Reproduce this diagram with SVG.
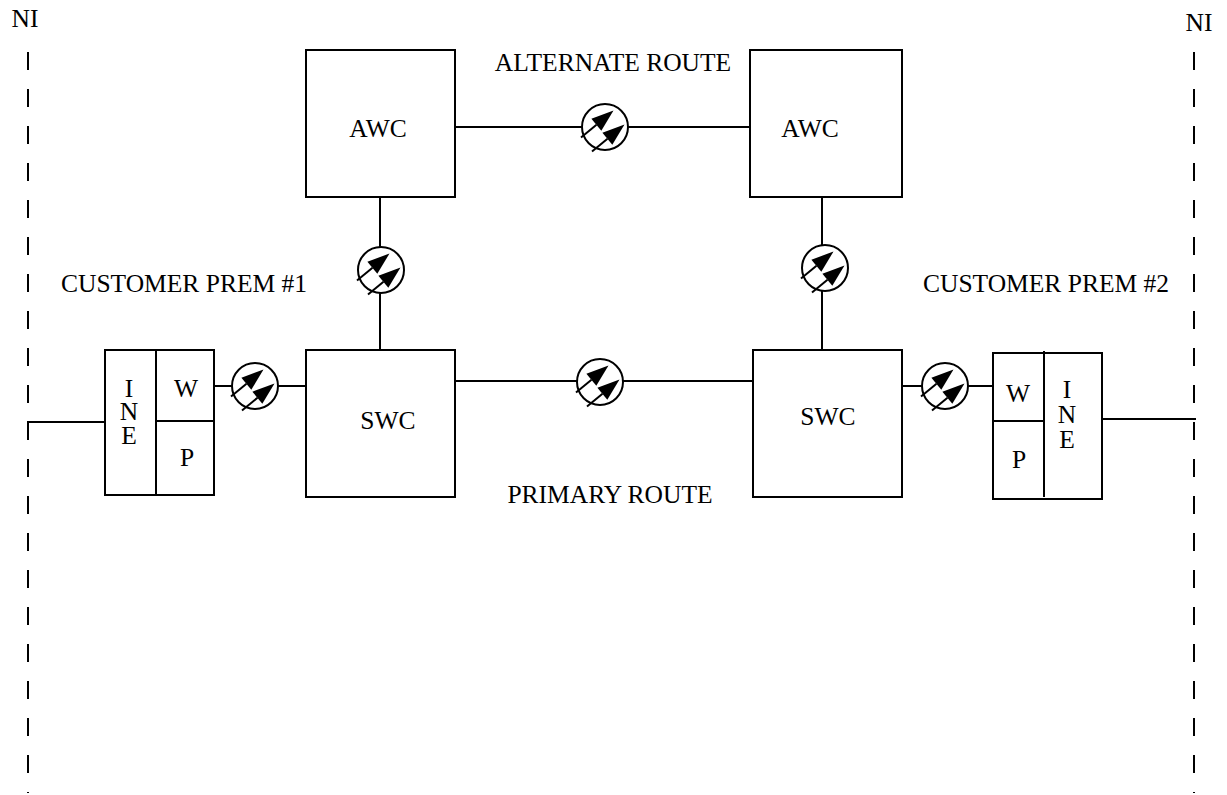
<svg xmlns="http://www.w3.org/2000/svg" xmlns:xlink="http://www.w3.org/1999/xlink" width="1227" height="795" viewBox="0 0 1227 795">
<style>
text{font-family:"Liberation Serif","Times New Roman",serif;font-size:25.5px;fill:#000;text-anchor:middle}
.box{fill:#fff;stroke:#000;stroke-width:2}
.ln{fill:none;stroke:#000;stroke-width:2}
.dash{fill:none;stroke:#000;stroke-width:2;stroke-dasharray:18 19}
</style>
<defs>
<g id="rep">
<circle r="23" fill="#fff" stroke="#000" stroke-width="2"/>
<line x1="-24" y1="10.5" x2="-8.5" y2="-2.3" stroke="#000" stroke-width="2"/>
<polygon points="8.5,-16.5 -3.7,3.8 -13.6,-8.3" fill="#000"/>
<line x1="-13" y1="24.5" x2="2.5" y2="11.7" stroke="#000" stroke-width="2"/>
<polygon points="19.5,-2.5 7.3,17.8 -2.6,5.7" fill="#000"/>
</g>
</defs>
<g id="boundaries">
<line class="dash" x1="28" y1="52" x2="28" y2="793"/>
<line class="dash" x1="1194" y1="52" x2="1194" y2="793"/>
<text x="25" y="27">NI</text>
<text x="1199" y="31">NI</text>
</g>
<g id="connectors">
<line class="ln" x1="455" y1="127" x2="750" y2="127"/>
<line class="ln" x1="380" y1="197" x2="380" y2="350"/>
<line class="ln" x1="822" y1="197" x2="822" y2="350"/>
<line class="ln" x1="455" y1="381" x2="753" y2="381"/>
<line class="ln" x1="214" y1="386" x2="306" y2="386"/>
<line class="ln" x1="902" y1="386" x2="993" y2="386"/>
<polyline class="ln" points="28,440 28,422 105,422"/>
<line class="ln" x1="1102" y1="419" x2="1196" y2="419"/>
<use id="rep-alt" xlink:href="#rep" x="605" y="127"/>
<use id="rep-left" xlink:href="#rep" x="381" y="270"/>
<use id="rep-right" xlink:href="#rep" x="825" y="268"/>
<use id="rep-primary" xlink:href="#rep" x="600" y="382"/>
<use id="rep-cp1" xlink:href="#rep" x="255" y="386"/>
<use id="rep-cp2" xlink:href="#rep" x="945" y="386"/>
</g>
<g id="labels">
<text x="613" y="71">ALTERNATE ROUTE</text>
<text x="610" y="503">PRIMARY ROUTE</text>
<text x="184" y="292">CUSTOMER PREM #1</text>
<text x="1046" y="292">CUSTOMER PREM #2</text>
</g>
<g id="awc1">
<rect class="box" x="306" y="50" width="149" height="147"/>
<text x="378" y="137">AWC</text>
</g>
<g id="awc2">
<rect class="box" x="750" y="50" width="152" height="147"/>
<text x="810" y="137">AWC</text>
</g>
<g id="swc1">
<rect class="box" x="306" y="350" width="149" height="147"/>
<text x="388" y="429">SWC</text>
</g>
<g id="swc2">
<rect class="box" x="753" y="350" width="149" height="147"/>
<text x="828" y="425">SWC</text>
</g>
<g id="cpe1">
<rect class="box" x="105" y="350" width="109" height="145"/>
<line class="ln" x1="156" y1="350" x2="156" y2="495"/>
<line class="ln" x1="156" y1="421" x2="214" y2="421"/>
<text x="129" y="397">I<tspan x="129" y="420">N</tspan><tspan x="129" y="444">E</tspan></text>
<text x="186" y="397">W</text>
<text x="187" y="466">P</text>
</g>
<g id="cpe2">
<rect class="box" x="993" y="353" width="109" height="146"/>
<line class="ln" x1="1044" y1="351" x2="1044" y2="497"/>
<line class="ln" x1="993" y1="421" x2="1044" y2="421"/>
<text x="1067" y="398">I<tspan x="1067" y="423">N</tspan><tspan x="1067" y="448">E</tspan></text>
<text x="1018" y="402">W</text>
<text x="1019" y="468">P</text>
</g>
</svg>
